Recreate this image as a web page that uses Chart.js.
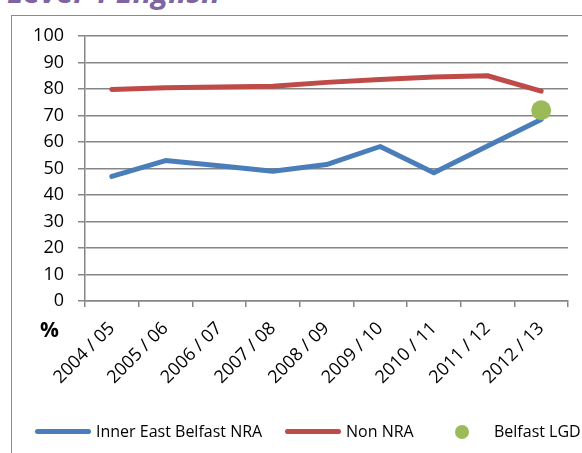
<!DOCTYPE html>
<html>
<head>
<meta charset="utf-8">
<script src="https://cdn.jsdelivr.net/npm/chart.js@4"></script>
<style>
  body { margin: 0; background: #fff; overflow: hidden; }
  #wrap { position: relative; width: 582px; height: 453px; overflow: hidden; }
  #frame { position: absolute; left: 11px; top: 15px; width: 700px; height: 600px; border: 1.5px solid #8a8a8a; }
  #title { position: absolute; left: 7px; top: -30px; font: italic bold 31px "Open Sans"; color: #8064a2; white-space: nowrap; }
  #pct { position: absolute; left: 40px; top: 315px; font: bold 21px "Open Sans"; color: #000; }
  canvas { position: absolute; left: 0; top: 0; }
  .lg { position: absolute; top: 420px; font: 16px "Open Sans"; color: #000; white-space: nowrap; }
  .lg i { display: inline-block; vertical-align: middle; margin-right: 5px; position: relative; top: -1px; }
</style>
</head>
<body>
<div id="wrap">
  <div id="title">Level 4 English</div>
  <div id="frame"></div>
  <canvas id="grafico" width="582" height="453"></canvas>
  <div id="pct">%</div>
  <div id="legenda"></div>
</div>
<script>
const categorias = ['2004 / 05', '2005 / 06', '2006 / 07', '2007 / 08', '2008 / 09', '2009 / 10', '2010 / 11', '2011 / 12', '2012 / 13'];
const innerEast = [47, 53, 51, 49, 51.5, 58.3, 48.4, 58.5, 68.5];
const nonNra = [79.8, 80.5, 80.8, 81, 82.5, 83.6, 84.5, 85, 79.2];
const belfastLgd = [null, null, null, null, null, null, null, null, 72];
const yTicks = [0, 10, 20, 30, 40, 50, 60, 70, 80, 90, 100];

const azul = '#4a7ebb';
const vermelho = '#be4b48';
const verde = '#9bbb59';
const cinza = '#868686';

const ctx = document.getElementById('grafico').getContext('2d');

const chart = new Chart(ctx, {
  type: 'line',
  data: {
    labels: categorias,
    datasets: [
      {
        label: 'Belfast LGD',
        data: belfastLgd,
        showLine: false,
        pointRadius: 10,
        pointBackgroundColor: verde,
        pointBorderWidth: 0,
        backgroundColor: verde,
        borderColor: verde,
        order: 0
      },
      {
        label: 'Inner East Belfast NRA',
        data: innerEast,
        borderColor: azul,
        borderWidth: 5,
        pointRadius: 0,
        tension: 0,
        borderCapStyle: 'round',
        borderJoinStyle: 'round',
        order: 1
      },
      {
        label: 'Non NRA',
        data: nonNra,
        borderColor: vermelho,
        borderWidth: 5,
        pointRadius: 0,
        tension: 0,
        borderCapStyle: 'round',
        borderJoinStyle: 'round',
        order: 2
      }
    ]
  },
  options: {
    responsive: false,
    animation: false,
    layout: {
      padding: { left: 0, top: 36, right: 14, bottom: 0 }
    },
    plugins: {
      legend: { display: false },
      tooltip: { enabled: false }
    },
    scales: {
      x: {
        offset: true,
        grid: {
          offset: true,
          drawOnChartArea: false,
          color: cinza,
          lineWidth: 1.5,
          tickLength: 6
        },
        border: { color: cinza, width: 1.5 },
        ticks: {
          color: '#000',
          font: { family: 'Open Sans', size: 18 },
          minRotation: 45,
          maxRotation: 45,
          padding: 11
        },
        afterFit: scale => { scale.height = 152; }
      },
      y: {
        min: 0,
        max: 100,
        afterBuildTicks: scale => { scale.ticks = yTicks.map(v => ({ value: v })); },
        grid: {
          color: cinza,
          lineWidth: 1.5,
          tickLength: 7
        },
        border: { color: cinza, width: 1.5 },
        ticks: {
          color: '#000',
          font: { family: 'Open Sans', size: 18 },
          padding: 14
        },
        afterFit: scale => { scale.width = 85; }
      }
    }
  }
});

// legenda montada a partir dos datasets
const posLegenda = { 'Inner East Belfast NRA': 35, 'Non NRA': 285, 'Belfast LGD': 455 };
const legenda = document.getElementById('legenda');
['Inner East Belfast NRA', 'Non NRA', 'Belfast LGD'].forEach(nome => {
  const ds = chart.data.datasets.find(d => d.label === nome);
  const item = document.createElement('div');
  item.className = 'lg';
  item.style.left = posLegenda[nome] + 'px';
  const marca = document.createElement('i');
  if (ds.showLine === false) {
    marca.style.cssText = 'width:14px;height:14px;border-radius:50%;background:' + ds.backgroundColor + ';margin-right:25px;';
  } else {
    marca.style.cssText = 'width:56px;height:5px;border-radius:3px;background:' + ds.borderColor + ';';
  }
  item.appendChild(marca);
  item.appendChild(document.createTextNode(nome));
  legenda.appendChild(item);
});
</script>
</body>
</html>
